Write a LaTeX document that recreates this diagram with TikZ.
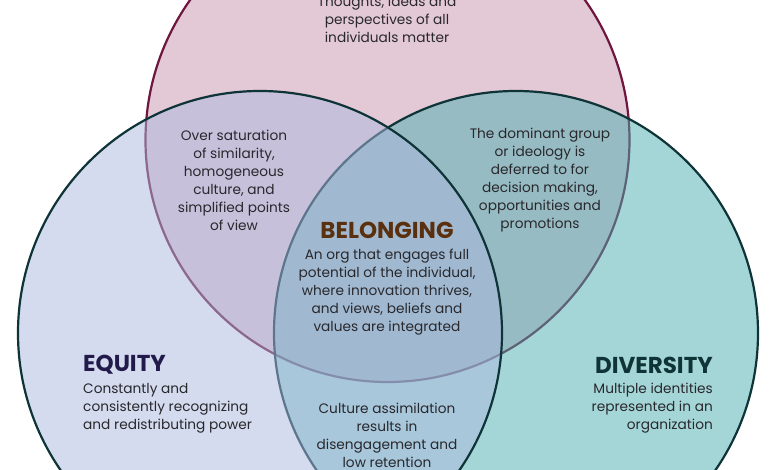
\documentclass[tikz,border=0pt]{standalone}
\usepackage{fontspec}
\setmainfont{Poppins}
\definecolor{pinkfill}{RGB}{227,200,213}
\definecolor{pinkline}{RGB}{110,22,62}
\definecolor{leftfill}{RGB}{171,185,223}
\definecolor{rightfill}{RGB}{77,175,177}
\definecolor{darkline}{RGB}{15,52,56}
\definecolor{txt}{RGB}{40,40,45}
\definecolor{belongc}{RGB}{90,48,14}
\definecolor{equityc}{RGB}{34,26,74}
\definecolor{diversityc}{RGB}{15,52,56}
\begin{document}
\begin{tikzpicture}[x=1pt,y=-1pt,
  body/.style={font=\fontsize{13.7}{18}\selectfont, text=txt, inner sep=0pt},
  title/.style={font=\fontsize{23}{26}\selectfont\bfseries, inner sep=0pt},
  ring/.style={line width=2.2pt}]
\useasboundingbox (0,0) rectangle (780,470);
\clip (0,0) rectangle (780,470);
\fill[white] (0,0) rectangle (780,470);
\draw[ring, pinkline, fill=pinkfill] (387.5,140) circle[radius=242pt];
\draw[ring, darkline, fill=rightfill, fill opacity=0.5] (516,333) circle[radius=242pt];
\draw[ring, darkline, fill=leftfill, fill opacity=0.5] (260,333) circle[radius=242pt];

\node[body, align=center] (inclusion) at (387,19) {Thoughts, ideas and\\perspectives of all\\individuals matter};
\node[body, align=center] (sameness) at (234,180) {Over saturation\\of similarity,\\homogeneous\\culture, and\\simplified points\\of view};
\node[body, align=center] (dominance) at (540,180) {The dominant group\\or ideology is\\deferred to for\\decision making,\\opportunities and\\promotions};
\node[title, text=belongc] (belonging) at (387,230) {BELONGING};
\node[body, align=center] (belongtext) at (387,292) {An org that engages full\\potential of the individual,\\where innovation thrives,\\and views, beliefs and\\values are integrated};
\node[body, align=center] (assimilation) at (387,435) {Culture assimilation\\results in\\disengagement and\\low retention};
\node[title, text=equityc, anchor=west] (equity) at (83,365) {EQUITY};
\node[body, align=left, anchor=west] (equitytext) at (83,408) {Constantly and\\consistently recognizing\\and redistributing power};
\node[title, text=diversityc, anchor=east] (diversity) at (713,365) {DIVERSITY};
\node[body, align=right, anchor=east] (diversitytext) at (713,408) {Multiple identities\\represented in an\\organization};
\end{tikzpicture}
\end{document}
